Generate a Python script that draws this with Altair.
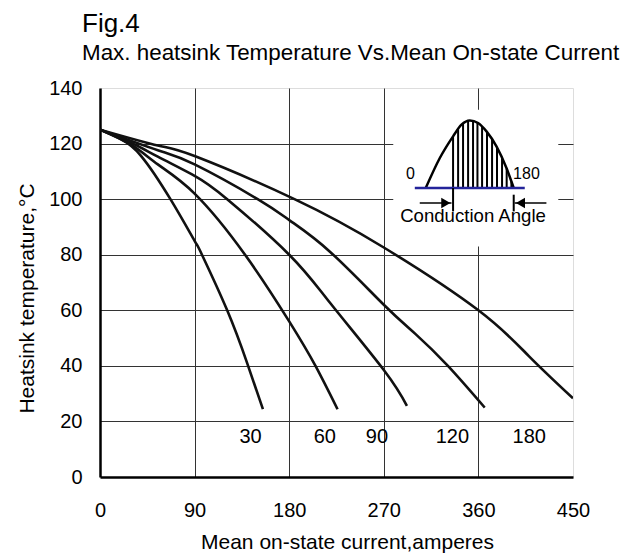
import altair as alt
import pandas as pd

# ---------------- data ----------------
series = ["30", "60", "90", "120", "180"]

c30_x = [0, 20, 39, 67, 90, 97, 121, 140, 155]
c30_y = [125, 121.5, 115.6, 100, 85, 80, 60, 41, 24.4]

c60_x = [0, 30, 55, 90, 138, 180, 205, 226]
c60_y = [125, 119.5, 112.5, 102, 80, 56, 40, 24.4]

c90_x = [0, 30, 55, 90, 121, 180, 219, 270, 292]
c90_y = [125, 120.2, 115.3, 108.4, 100, 80, 62.6, 38.5, 25.6]

c120_x = [0, 55, 90, 150, 181, 219, 270, 300, 331, 366]
c120_y = [125, 117.6, 112.5, 100, 92.2, 81, 62, 51.5, 40, 25]

c180_x = [0, 55, 90, 185, 270, 360, 408, 450]
c180_y = [125, 119.3, 115.5, 100, 82.6, 60, 43.5, 28.3]

label_text = ["30", "60", "90", "120", "180"]
label_x = [143.2, 213.9, 263.5, 335.2, 408.4]
label_y = [14.3, 14.3, 14.3, 14.3, 14.3]

x_ticks = [0, 90, 180, 270, 360, 450]
y_ticks = [0, 20, 40, 60, 80, 100, 120, 140]

# inset (conduction angle sketch)
inset_box_x = [279]
inset_box_x2 = [436]
inset_box_y = [83]
inset_box_y2 = [132.2]

hump_x = [309.9, 323.3, 335.9, 343.9, 351.8, 359.7, 367.7, 377.2, 386.7, 393.6]
hump_y = [104.0, 114.8, 122.6, 126.8, 128.3, 127.4, 124.4, 119.0, 111.2, 104.0]

hatch_x = [335.9, 340.7, 345.4, 350.2, 354.9, 359.1, 363.5, 368.2, 373.0, 377.7, 382.5, 386.9, 391.4]
hatch_top = [122.6, 125.1, 127.1, 128.1, 128.0, 127.5, 126.0, 124.1, 121.4, 118.6, 114.7, 111.0, 106.3]
base_level = 104.0

base_x = [299.5]
base_x2 = [404.1]

marker_x = [335.9, 393.6]
marker_y = [95.6, 95.6]
marker_y2 = [104.0, 101.6]

arrow_x = [304.2, 394.5]
arrow_x2 = [334.4, 424.7]
arrow_y = [98.6, 98.6]

head_x = [329.0, 400.0]
head_y = [98.6, 98.6]
head_shape = ["triangle-right", "triangle-left"]

inset_text = ["0", "180", "Conduction Angle"]
inset_text_x = [295.4, 405.7, 354.9]
inset_text_y = [109.1, 109.1, 93.8]
inset_text_size = [16, 16, 18.6]

# ---------------- tables ----------------
rows = []
for name, xs, ys in [("30", c30_x, c30_y), ("60", c60_x, c60_y), ("90", c90_x, c90_y),
                     ("120", c120_x, c120_y), ("180", c180_x, c180_y)]:
    for i, (a, b) in enumerate(zip(xs, ys)):
        rows.append({"s": name, "i": i, "x": a, "y": b})
curves_df = pd.DataFrame(rows)
labels_df = pd.DataFrame({"x": label_x, "y": label_y, "t": label_text})
box_df = pd.DataFrame({"x": inset_box_x, "x2": inset_box_x2, "y": inset_box_y, "y2": inset_box_y2})
hump_df = pd.DataFrame({"x": hump_x, "y": hump_y, "i": list(range(len(hump_x)))})
hatch_df = pd.DataFrame({"x": hatch_x, "y": hatch_top, "y2": [base_level] * len(hatch_x)})
base_df = pd.DataFrame({"x": base_x, "x2": base_x2, "y": [base_level]})
marker_df = pd.DataFrame({"x": marker_x, "y": marker_y, "y2": marker_y2})
arrow_df = pd.DataFrame({"x": arrow_x, "x2": arrow_x2, "y": arrow_y})
head_df = pd.DataFrame({"x": head_x, "y": head_y, "shape": head_shape})
itext_df = pd.DataFrame({"x": inset_text_x, "y": inset_text_y, "t": inset_text, "fs": inset_text_size})

# ---------------- styling ----------------
FONT = "Liberation Sans, Arial, sans-serif"

xscale = alt.Scale(domain=[0, 450], nice=False, zero=False)
yscale = alt.Scale(domain=[0, 140], nice=False, zero=False)

xaxis = alt.Axis(
    values=x_ticks, title="Mean on-state current,amperes",
    grid=True, gridColor="#333333", gridWidth=1,
    gridOpacity=alt.condition("datum.value == 0 || datum.value == 450", alt.value(0), alt.value(1)),
    domainColor="black", domainWidth=2.5, ticks=False, tickSize=0,
    labelFont=FONT, labelFontSize=20, labelColor="black", labelPadding=23, labelFlush=False,
    titleFont=FONT, titleFontSize=21, titleFontWeight="normal", titleColor="black",
    titlePadding=11, titleX=247,
)
yaxis = alt.Axis(
    values=y_ticks, title="Heatsink temperature,°C",
    grid=True, gridColor="#333333", gridWidth=1,
    gridOpacity=alt.condition("datum.value == 0 || datum.value == 140", alt.value(0), alt.value(1)),
    domainColor="black", domainWidth=2.5, ticks=False, tickSize=0,
    labelFont=FONT, labelFontSize=20, labelColor="black", labelPadding=18,
    titleFont=FONT, titleFontSize=21, titleFontWeight="normal", titleColor="black",
    titleAngle=270, titleBaseline="alphabetic", titleX=-67, titleY=210,
)


def X(f="x"):
    return alt.X(f, type="quantitative", scale=xscale, axis=xaxis)


def Y(f="y"):
    return alt.Y(f, type="quantitative", scale=yscale, axis=yaxis)


box = alt.Chart(box_df).mark_rect(color="white").encode(
    x=X(), x2="x2", y=Y(), y2="y2")

curves = alt.Chart(curves_df).mark_line(
    color="#111111", strokeWidth=2.6, interpolate="natural", clip=True
).encode(x=X(), y=Y(), detail="s:N", order="i:Q")

labels = alt.Chart(labels_df).mark_text(
    font=FONT, fontSize=20, color="black", align="center", baseline="middle"
).encode(x=X(), y=Y(), text="t:N")

hatch = alt.Chart(hatch_df).mark_rule(color="black", strokeWidth=2).encode(
    x=X(), y=Y(), y2="y2")

hump = alt.Chart(hump_df).mark_line(
    color="black", strokeWidth=2.5, interpolate="monotone"
).encode(x=X(), y=Y(), order="i:Q")

baseline = alt.Chart(base_df).mark_rule(color="#23239a", strokeWidth=2.5).encode(
    x=X(), x2="x2", y=Y())

markers = alt.Chart(marker_df).mark_rule(color="black", strokeWidth=2).encode(
    x=X(), y=Y(), y2="y2")

arrows = alt.Chart(arrow_df).mark_rule(color="black", strokeWidth=1.5).encode(
    x=X(), x2="x2", y=Y())

heads = alt.Chart(head_df).mark_point(
    filled=True, color="black", size=110, opacity=1
).encode(x=X(), y=Y(), shape=alt.Shape("shape:N", scale=None))

itext = alt.Chart(itext_df).mark_text(
    font=FONT, color="black", align="center", baseline="middle"
).encode(x=X(), y=Y(), text="t:N", size=alt.Size("fs:Q", scale=None))

chart = alt.layer(
    box, curves, labels, hatch, hump, baseline, markers, arrows, heads, itext
).properties(
    width=473, height=389,
    padding={"left": 92, "top": 80, "right": 48, "bottom": 82},
    autosize=alt.AutoSizeParams(type="none"),
    title=alt.TitleParams(
        text="Fig.4",
        subtitle="Max. heatsink Temperature Vs.Mean On-state Current",
        anchor="start", frame="group", dx=-18, offset=14,
        font=FONT, fontSize=26, fontWeight="normal", color="black",
        subtitleFont=FONT, subtitleFontSize=22.4, subtitleColor="black",
        subtitlePadding=5,
    ),
).configure_view(
    stroke="#9a9a9a", strokeWidth=2.5
).configure(background="white")

chart.save("out.html", embed_options={"renderer": "svg", "actions": False})
